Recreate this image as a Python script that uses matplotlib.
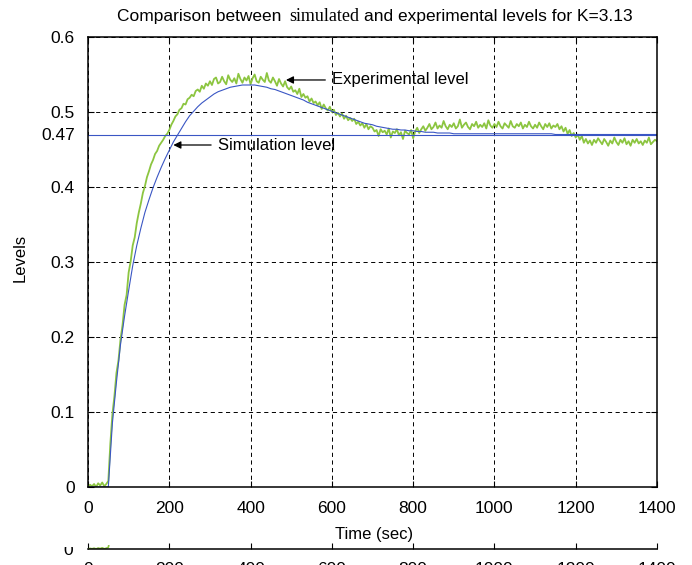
import numpy as np
import matplotlib
matplotlib.use("Agg")
import matplotlib.pyplot as plt
from matplotlib.patches import Rectangle

# simulated response, one sample every 10 s
time_sim = np.arange(0, 1401, 10)
level_sim = [
    0, 0, 0, 0, 0, 0, 0.085, 0.140, 0.190, 0.228,
    0.262, 0.295, 0.322, 0.345, 0.366, 0.383, 0.399, 0.413, 0.426, 0.438,
    0.449, 0.460, 0.469, 0.478, 0.487, 0.495, 0.501, 0.507, 0.512, 0.516,
    0.520, 0.524, 0.527, 0.529, 0.531, 0.533, 0.534, 0.535, 0.536, 0.536,
    0.536, 0.536, 0.535, 0.534, 0.533, 0.531, 0.530, 0.528, 0.526, 0.524,
    0.522, 0.520, 0.518, 0.516, 0.513, 0.511, 0.509, 0.507, 0.505, 0.503,
    0.501, 0.499, 0.497, 0.495, 0.493, 0.491, 0.489, 0.487, 0.485, 0.484,
    0.483, 0.481, 0.480, 0.479, 0.478, 0.477, 0.477, 0.476, 0.476, 0.475,
    0.475, 0.474, 0.474, 0.473, 0.473, 0.473, 0.472, 0.472, 0.472, 0.472,
    0.471, 0.471, 0.471, 0.471, 0.471, 0.471, 0.471, 0.471, 0.471, 0.471,
    0.471, 0.471, 0.471, 0.471, 0.471, 0.471, 0.471, 0.471, 0.471, 0.471,
    0.471, 0.471, 0.471, 0.471, 0.471, 0.470, 0.470, 0.470, 0.470, 0.470,
    0.470, 0.470, 0.470, 0.470, 0.470, 0.470, 0.470, 0.470, 0.470, 0.470,
    0.470, 0.470, 0.470, 0.470, 0.470, 0.470, 0.470, 0.470, 0.470, 0.470,
    0.470,
]

# measured tank level, one sample every 5 s
time_exp = np.arange(0, 1401, 5)
level_exp = [
    0.000, 0.003, 0.001, 0.004, 0.000, 0.005, 0.002, 0.006, 0.001, 0.004,
    0.008, 0.058, 0.097, 0.121, 0.152, 0.169, 0.197, 0.216, 0.243, 0.256,
    0.286, 0.301, 0.322, 0.333, 0.352, 0.366, 0.378, 0.392, 0.401, 0.413,
    0.421, 0.430, 0.436, 0.444, 0.448, 0.455, 0.459, 0.463, 0.468, 0.471,
    0.476, 0.483, 0.488, 0.494, 0.497, 0.503, 0.505, 0.511, 0.510, 0.517,
    0.519, 0.523, 0.521, 0.528, 0.530, 0.527, 0.535, 0.531, 0.538, 0.535,
    0.541, 0.536, 0.544, 0.546, 0.538, 0.540, 0.547, 0.541, 0.537, 0.549,
    0.543, 0.540, 0.545, 0.538, 0.551, 0.544, 0.539, 0.546, 0.542, 0.548,
    0.537, 0.545, 0.550, 0.541, 0.539, 0.547, 0.543, 0.540, 0.552, 0.542,
    0.539, 0.546, 0.541, 0.535, 0.544, 0.538, 0.534, 0.541, 0.533, 0.530,
    0.534, 0.527, 0.529, 0.524, 0.531, 0.520, 0.524, 0.519, 0.521, 0.514,
    0.518, 0.512, 0.514, 0.509, 0.513, 0.504, 0.510, 0.505, 0.502, 0.507,
    0.500, 0.503, 0.496, 0.499, 0.494, 0.498, 0.491, 0.495, 0.489, 0.492,
    0.488, 0.491, 0.484, 0.487, 0.482, 0.485, 0.479, 0.484, 0.477, 0.481,
    0.479, 0.474, 0.476, 0.468, 0.477, 0.473, 0.475, 0.470, 0.478, 0.466,
    0.474, 0.472, 0.477, 0.469, 0.473, 0.464, 0.475, 0.472, 0.470, 0.476,
    0.465, 0.474, 0.479, 0.472, 0.477, 0.481, 0.475, 0.479, 0.484, 0.477,
    0.480, 0.486, 0.478, 0.482, 0.479, 0.488, 0.481, 0.477, 0.483, 0.480,
    0.485, 0.478, 0.481, 0.490, 0.479, 0.483, 0.486, 0.480, 0.477, 0.484,
    0.481, 0.487, 0.479, 0.483, 0.480, 0.485, 0.478, 0.489, 0.482, 0.479,
    0.484, 0.480, 0.487, 0.481, 0.478, 0.485, 0.482, 0.479, 0.488, 0.481,
    0.479, 0.484, 0.481, 0.486, 0.478, 0.483, 0.480, 0.487, 0.481, 0.478,
    0.483, 0.479, 0.486, 0.481, 0.477, 0.484, 0.480, 0.485, 0.478, 0.482,
    0.480, 0.484, 0.477, 0.481, 0.474, 0.479, 0.471, 0.476, 0.468, 0.472,
    0.466, 0.470, 0.463, 0.468, 0.459, 0.464, 0.458, 0.462, 0.456, 0.463,
    0.459, 0.465, 0.461, 0.457, 0.464, 0.460, 0.455, 0.462, 0.458, 0.466,
    0.460, 0.456, 0.463, 0.459, 0.465, 0.457, 0.461, 0.455, 0.463, 0.459,
    0.464, 0.458, 0.461, 0.456, 0.462, 0.459, 0.466, 0.457, 0.460, 0.463,
    0.461,
]

setpoint = 0.47
x_ticks = [0, 200, 400, 600, 800, 1000, 1200, 1400]
y_ticks = [0, 0.1, 0.2, 0.3, 0.4, 0.5, 0.6]
y_tick_labels = ["0", "0.1", "0.2", "0.3", "0.4", "0.5", "0.6"]

GREEN = "#8cc540"
BLUE = "#3a56c4"
W, H = 692, 565
TICK_FS = 12.5

plt.rcParams["font.family"] = ["Liberation Sans", "DejaVu Sans"]
plt.rcParams["lines.scale_dashes"] = False

fig = plt.figure(figsize=(W / 100, H / 100), dpi=100)
fig.patch.set_facecolor("white")


def px_box(left, top, right, bottom):
    return [left / W, 1 - bottom / H, (right - left) / W, (bottom - top) / H]


# leftover strip of a second plot underneath
ax2 = fig.add_axes(px_box(88, 545, 657, 549))
ax2.patch.set_alpha(0)
ax2.plot(time_exp, level_exp, color=GREEN, lw=1.2)
ax2.set_xlim(0, 1400)
ax2.set_ylim(0, 0.02)
for side in ("top", "left", "right"):
    ax2.spines[side].set_visible(False)
ax2.spines["bottom"].set_linewidth(1.1)
ax2.set_xticks(x_ticks)
ax2.set_xticklabels([str(t) for t in x_ticks], fontsize=TICK_FS)
ax2.set_yticks([0])
ax2.set_yticklabels(["0"], fontsize=TICK_FS)
ax2.tick_params(axis="x", direction="in", length=4, width=0.8, pad=9.4)
ax2.tick_params(axis="y", length=0, pad=11)
fig.add_artist(Rectangle((55 / W, (H - 546.5) / H), 30 / W, 7 / H,
                         transform=fig.transFigure, facecolor="white",
                         edgecolor="none", zorder=1))

ax = fig.add_axes(px_box(88, 37, 657, 487))
ax.set_zorder(2)
ax.plot(time_exp, level_exp, color=GREEN, lw=1.3)
ax.plot(time_sim, level_sim, color=BLUE, lw=0.8)
ax.axhline(setpoint, color=BLUE, lw=0.8)

ax.set_xlim(0, 1400)
ax.set_ylim(0, 0.6)
ax.set_xticks(x_ticks)
ax.set_xticklabels([str(t) for t in x_ticks], fontsize=TICK_FS)
ax.set_yticks(y_ticks)
ax.set_yticklabels(y_tick_labels, fontsize=TICK_FS)
ax.set_yticks([setpoint], minor=True)
ax.set_yticklabels(["0.47"], minor=True, fontsize=TICK_FS)
ax.tick_params(which="major", direction="in", length=4, width=0.8,
               top=True, right=True)
ax.tick_params(axis="x", pad=10)
ax.tick_params(axis="y", which="both", pad=9.5)
ax.tick_params(which="minor", length=0)
ax.grid(True, which="major", color="black", lw=0.7, linestyle=(0, (3, 2.5)))
for sp in ax.spines.values():
    sp.set_linewidth(1.1)

arrow = dict(arrowstyle="-|>", color="black", lw=0.9, shrinkA=3, shrinkB=0,
             mutation_scale=11)
ax.annotate("Experimental level", xy=(487, 0.5427), xytext=(601, 0.5427),
            ha="left", va="center", fontsize=12, arrowprops=arrow)
ax.annotate("Simulation level", xy=(210, 0.456), xytext=(320, 0.456),
            ha="left", va="center", fontsize=12, arrowprops=arrow)

fig.text(20 / W, 1 - 258 / H, "Levels", rotation=90, ha="center", va="center", fontsize=12)
fig.text(374 / W, 1 - 534 / H, "Time (sec)", ha="center", va="center", fontsize=12)

# title with the middle word set in a serif face
title_parts = [
    ("Comparison between", "Liberation Sans", 12.5, 8),
    ("simulated", "Liberation Serif", 13, 5),
    ("and experimental levels for K=3.13", "Liberation Sans", 12.5, 0),
]
fig.canvas.draw()
renderer = fig.canvas.get_renderer()
x = 117 / W
for text, family, size, gap in title_parts:
    t = fig.text(x, 1 - 21 / H, text, family=family, fontsize=size, va="baseline")
    x += (t.get_window_extent(renderer).width + gap) / W

fig.savefig("out.png", dpi=100)
